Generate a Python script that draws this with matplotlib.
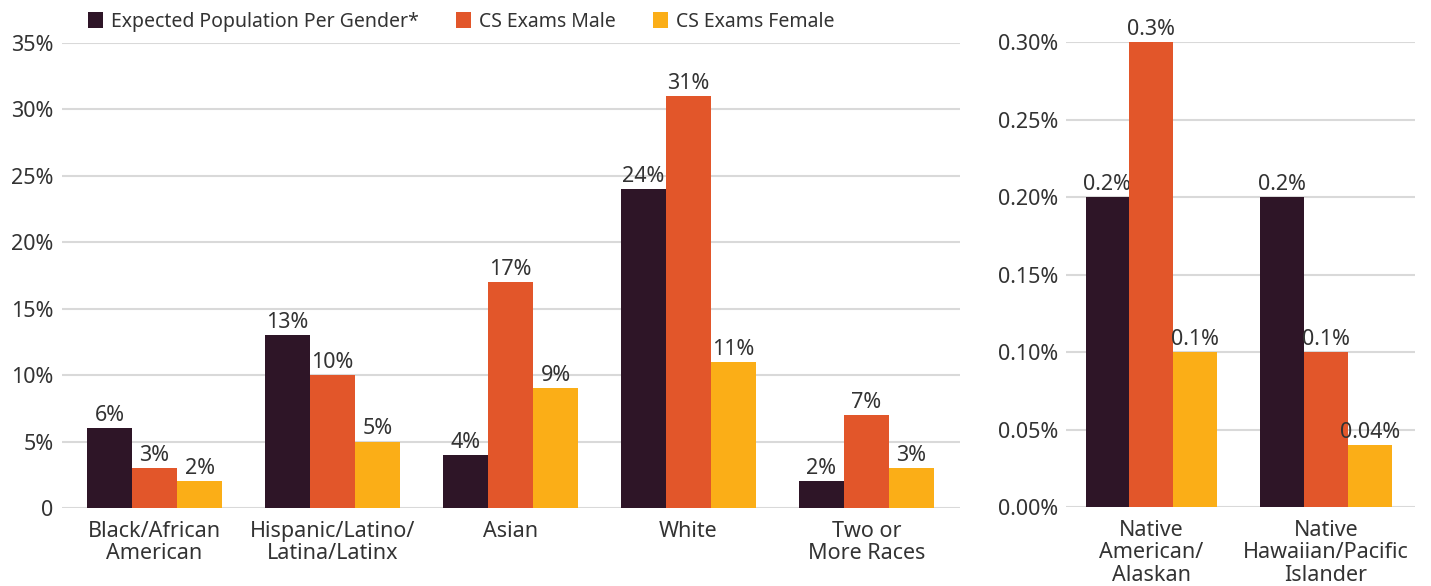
import numpy as np
import matplotlib
matplotlib.use("Agg")
import matplotlib.pyplot as plt
from matplotlib.patches import Patch

plt.rcParams["font.family"] = ["Noto Sans", "DejaVu Sans"]

# data
groups_main = ["Black/African\nAmerican", "Hispanic/Latino/\nLatina/Latinx", "Asian", "White", "Two or\nMore Races"]
expected_main = [6, 13, 4, 24, 2]
male_main = [3, 10, 17, 31, 7]
female_main = [2, 5, 9, 11, 3]

groups_small = ["Native\nAmerican/\nAlaskan", "Native\nHawaiian/Pacific\nIslander"]
expected_small = [0.2, 0.2]
male_small = [0.3, 0.1]
female_small = [0.1, 0.04]

series_names = ["Expected Population Per Gender*", "CS Exams Male", "CS Exams Female"]
colors = ["#2e1527", "#e2562a", "#fbae17"]
text_col = "#333333"
grid_col = "#d9d9d9"


def fmt_label(v):
    s = f"{v:g}"
    return s + "%"


def draw(ax, groups, series, width):
    x = np.arange(len(groups))
    for i, (vals, c) in enumerate(zip(series, colors)):
        pos = x + (i - 1) * width
        bars = ax.bar(pos, vals, width, color=c, zorder=3)
        for b, v in zip(bars, vals):
            ax.annotate(fmt_label(v), (b.get_x() + b.get_width() / 2, v),
                        xytext=(0, 1.5), textcoords="offset points",
                        ha="center", va="bottom", fontsize=15.5, color=text_col)
    ax.set_xticks(x)
    ax.set_xticklabels(groups, fontsize=15.5, color=text_col, linespacing=1.12)
    for s in ax.spines.values():
        s.set_visible(False)
    ax.tick_params(length=0, labelsize=15.5, labelcolor=text_col)
    ax.tick_params(axis="x", pad=9)
    ax.tick_params(axis="y", pad=6)
    ax.yaxis.grid(True, color=grid_col, linewidth=1.5, zorder=0)
    ax.set_axisbelow(True)


fig = plt.figure(figsize=(14.31, 5.86), dpi=100)
ax1 = fig.add_axes([0.0433, 0.1331, 0.6275, 0.7935])
ax2 = fig.add_axes([0.745, 0.1348, 0.2439, 0.7935])

draw(ax1, groups_main, [expected_main, male_main, female_main], 0.253)
ax1.set_xlim(-0.52, 4.525)
ax1.set_ylim(0, 35)
ax1.set_yticks(range(0, 36, 5))
ax1.set_yticklabels(["0"] + [f"{t}%" for t in range(5, 36, 5)])

draw(ax2, groups_small, [expected_small, male_small, female_small], 0.25)
ax2.set_xlim(-0.486, 1.509)
ax2.set_ylim(0, 0.30)
yt = np.arange(0, 0.301, 0.05)
ax2.set_yticks(yt)
ax2.set_yticklabels([f"{t:.2f}%" for t in yt])

handles = [Patch(facecolor=c) for c in colors]
fig.legend(handles, series_names, loc="center left", bbox_to_anchor=(0.049, 0.963),
           ncol=3, frameon=False, fontsize=14, labelcolor=text_col,
           handlelength=0.8, handleheight=0.9, handletextpad=0.4, columnspacing=1.9)

fig.savefig("out.png", dpi=100)
